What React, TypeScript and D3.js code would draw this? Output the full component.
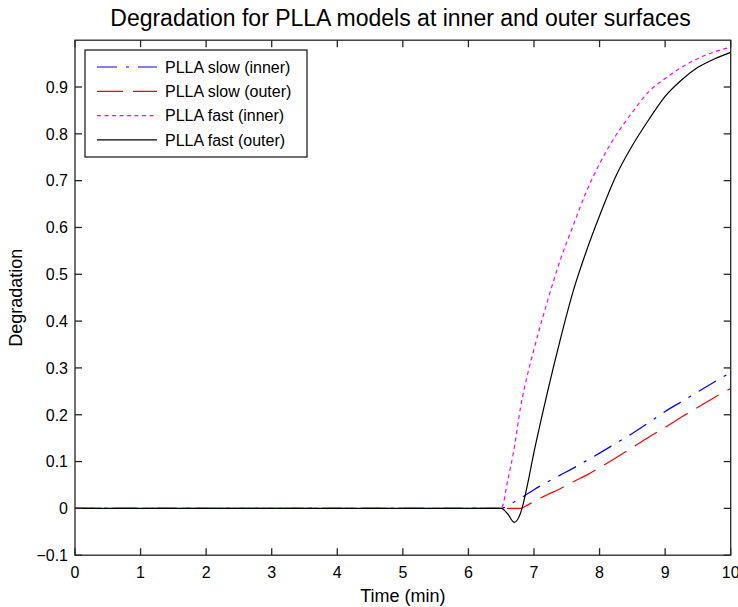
import React from "react";
import * as d3 from "d3";

const timeGrid = [0, 6.5, 6.6, 6.7, 6.8, 6.9, 7.0, 7.2, 7.4, 7.6, 7.8, 8.0, 8.25, 8.5, 8.75, 9.0, 9.25, 9.5, 9.75, 10];
const slowInner = [0, 0, 0.006, 0.014, 0.022, 0.031, 0.04, 0.056, 0.071, 0.086, 0.102, 0.118, 0.139, 0.16, 0.183, 0.207, 0.228, 0.249, 0.27, 0.29];
const slowOuter = [0, 0, 0, 0, 0, 0.007, 0.015, 0.029, 0.042, 0.057, 0.071, 0.087, 0.108, 0.13, 0.152, 0.173, 0.195, 0.216, 0.237, 0.256];
const fastInner = [0, 0, 0.06, 0.13, 0.22, 0.285, 0.34, 0.44, 0.53, 0.605, 0.677, 0.736, 0.797, 0.846, 0.89, 0.918, 0.942, 0.961, 0.975, 0.985];
const fastOuter = [0, 0, -0.012, -0.03, -0.008, 0.05, 0.12, 0.245, 0.36, 0.465, 0.55, 0.625, 0.71, 0.775, 0.83, 0.88, 0.915, 0.942, 0.96, 0.974];

const seriesNames = ["PLLA slow (inner)", "PLLA slow (outer)", "PLLA fast (inner)", "PLLA fast (outer)"];
const seriesColors = ["#0000ff", "#ff0000", "#ff00ff", "#000000"];
const seriesDash = ["20,9,3,9", "26,10", "4,3.5", "none"];
const seriesValues = [slowInner, slowOuter, fastInner, fastOuter];

const xTicks = [0, 1, 2, 3, 4, 5, 6, 7, 8, 9, 10];
const yTicks = [-0.1, 0, 0.1, 0.2, 0.3, 0.4, 0.5, 0.6, 0.7, 0.8, 0.9];

const W = 738, H = 607;
const L = 75, R = 730.7, T = 40.2, B = 555.2;
const FONT = "'Liberation Sans', Arial, Helvetica, sans-serif";

export default function App() {
  const x = d3.scaleLinear().domain([0, 10]).range([L, R]);
  const y = d3.scaleLinear().domain([-0.1, 1.0]).range([B, T]);
  const line = d3.line<[number, number]>().x(d => x(d[0])).y(d => y(d[1])).curve(d3.curveMonotoneX);
  const tick = 7;
  return (
    <svg width={W} height={H} style={{ position: "absolute", left: 0, top: 0, background: "#fff" }}>
      <rect x={0} y={0} width={W} height={H} fill="#fff" />
      <defs>
        <clipPath id="plot"><rect x={L} y={T} width={R - L} height={B - T} /></clipPath>
      </defs>
      <g clipPath="url(#plot)">
        {seriesValues.map((vals, i) => (
          <path key={i} d={line(timeGrid.map((t, j) => [t, vals[j]] as [number, number])) || ""}
            fill="none" stroke={seriesColors[i]} strokeWidth={1.2}
            strokeDasharray={seriesDash[i]} />
        ))}
      </g>
      <rect x={L} y={T} width={R - L} height={B - T} fill="none" stroke="#262626" strokeWidth={1.3} />
      {xTicks.map(t => (
        <g key={"x" + t}>
          <line x1={x(t)} x2={x(t)} y1={B} y2={B - tick} stroke="#262626" strokeWidth={1.3} />
          <line x1={x(t)} x2={x(t)} y1={T} y2={T + tick} stroke="#262626" strokeWidth={1.3} />
          <text x={x(t)} y={578} textAnchor="middle" fontFamily={FONT} fontSize={16} fill="#000">{t}</text>
        </g>
      ))}
      {yTicks.map(t => (
        <g key={"y" + t}>
          <line x1={L} x2={L + tick} y1={y(t)} y2={y(t)} stroke="#262626" strokeWidth={1.3} />
          <line x1={R} x2={R - tick} y1={y(t)} y2={y(t)} stroke="#262626" strokeWidth={1.3} />
          <text x={68} y={y(t)} dy="0.36em" textAnchor="end" fontFamily={FONT} fontSize={16} fill="#000">{d3.format("")(+t.toFixed(1))}</text>
        </g>
      ))}
      <text x={400.5} y={26} textAnchor="middle" fontFamily={FONT} fontSize={23} fill="#000">Degradation for PLLA models at inner and outer surfaces</text>
      <text x={(L + R) / 2} y={602} textAnchor="middle" fontFamily={FONT} fontSize={18} fill="#000">Time (min)</text>
      <text transform={`translate(22,${(T + B) / 2}) rotate(-90)`} textAnchor="middle" fontFamily={FONT} fontSize={18} fill="#000">Degradation</text>
      <g>
        <rect x={85} y={50} width={222} height={107} fill="#fff" stroke="#262626" strokeWidth={1.3} />
        {seriesNames.map((n, i) => {
          const cy = 67 + i * 24.3;
          return (
            <g key={n}>
              <line x1={97} x2={157} y1={cy} y2={cy} stroke={seriesColors[i]} strokeWidth={1.2} strokeDasharray={seriesDash[i]} />
              <text x={165} y={cy} dy="0.36em" fontFamily={FONT} fontSize={16} fill="#000">{n}</text>
            </g>
          );
        })}
      </g>
    </svg>
  );
}
